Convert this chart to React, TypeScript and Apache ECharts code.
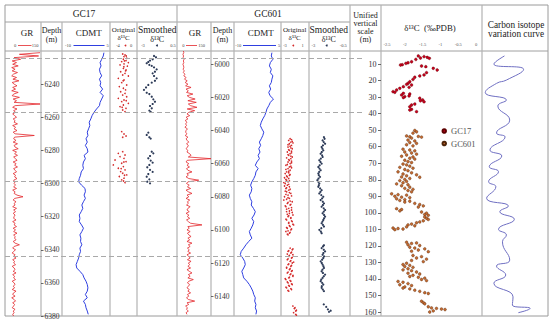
import React, { useEffect, useRef } from 'react';
import * as echarts from 'echarts';

// ---------------- data ----------------
const GC17_TOP = 6220;
const GC17_BOTTOM = 6380;
const GC601_TOP = 5992;
const GC601_BOTTOM = 6152;
const UNIFIED_MIN = 0;
const UNIFIED_MAX = 162.4;

const DEPTH_TICKS_GC17 = [6240, 6260, 6280, 6300, 6320, 6340, 6360, 6380];
const DEPTH_TICKS_GC601 = [6000, 6020, 6040, 6060, 6080, 6100, 6120, 6140];
const UNIFIED_TICKS = [10, 20, 30, 40, 50, 60, 70, 80, 90, 100, 110, 120, 130, 140, 150, 160];
const LEGEND_NAMES = ['GC17', 'GC601'];

// GR logs, 1 m sampling
const GR_STEP = 1;
const GR_GC17_START = 6221;
const grGC17 = [
  146, 60, 140, 38, 65, 30, 48, 32, 55, 28,
  42, 30, 52, 35, 28, 48, 33, 58, 30, 38,
  50, 32, 44, 28, 55, 36, 30, 60, 34, 48,
  38, 146, 42, 32, 50, 36, 44, 32, 40, 48,
  34, 42, 38, 52, 32, 44, 38, 50, 34, 42,
  122, 40, 36, 46, 34, 52, 38, 42, 55, 32,
  48, 40, 52, 36, 44, 50, 34, 46, 40, 52,
  36, 42, 48, 34, 44, 40, 50, 36, 42, 38,
  44, 36, 48, 32, 42, 38, 50, 75, 40, 34,
  46, 38, 42, 32, 48, 36, 44, 34, 42, 38,
  36, 46, 32, 42, 38, 48, 34, 44, 36, 50,
  36, 42, 40, 46, 34, 42, 60, 38, 32, 44,
  36, 30, 42, 36, 46, 32, 40, 36, 44, 30,
  38, 42, 34, 46, 32, 40, 36, 44, 30, 38,
  42, 34, 40, 30, 46, 36, 32, 42, 28, 38,
  44, 32, 40, 36, 30, 42, 34, 38, 32, 36,
];
const GR_GC601_START = 5992;
const grGC601 = [
  28, 30, 26, 29, 27, 31, 28, 30, 26, 29,
  30, 27, 32, 28, 35, 30, 40, 33, 45, 36,
  48, 38, 62, 40, 50, 42, 70, 45, 55, 80,
  48, 85, 50, 60, 88, 45, 78, 52, 44, 56,
  40, 48, 36, 44, 38, 42, 35, 46, 40, 38,
  44, 36, 48, 40, 45, 52, 42, 50, 46, 40,
  48, 44, 56, 62, 50, 150, 45, 40, 52, 44,
  55, 42, 48, 66, 44, 50, 40, 52, 96, 48,
  42, 54, 46, 60, 40, 50, 66, 44, 52, 40,
  56, 46, 50, 42, 58, 48, 44, 54, 40, 52,
  46, 56, 42, 50, 60, 110, 48, 54, 44, 58,
  46, 52, 62, 48, 56, 44, 66, 50, 58, 46,
  54, 48, 60, 44, 52, 58, 46, 62, 50, 56,
  48, 60, 44, 54, 66, 50, 58, 48, 72, 52,
  46, 56, 50, 44, 54, 48, 60, 46, 52, 42,
  50, 78, 44, 52, 38, 46, 42, 50, 40, 44,
];

// CDMT, 2 m sampling
const CDMT_STEP = 2;
const CDMT_GC17_START = 6221;
const cdmtGC17 = [
  3.1, 2.9, 2.4, 1.9, 2.2, 1.7, 1.9, 2.4, 1.7, 2.1,
  1.9, 2.7, 1.9, 2.9, 2.4, 1.9, 1.7, 0.8, 0.0, -0.6,
  -1.0, -1.5, -1.3, -1.7, -2.1, -1.9, -2.5, -2.1, -2.7, -2.1,
  -1.9, -3.1, -2.7, -3.3, -3.5, -3.3, -4.0, -4.2, -4.6, -4.8,
  -3.9, -2.8, -2.7, -3.1, -2.7, -3.3, -3.8, -3.5, -4.0, -4.6,
  -4.4, -4.6, -3.9, -3.3, -3.8, -4.4, -4.1, -4.2, -3.8, -4.4,
  -4.2, -4.6, -4.8, -5.2, -5.6, -5.4, -4.4, -3.5, -3.1, -2.5,
  -2.1, -1.9, -2.1, -2.7, -2.1, -3.3, -2.7, -2.5, -2.1, -1.8,
];
const CDMT_GC601_START = 5993;
const cdmtGC601 = [
  2.1, 1.9, 2.4, 1.6, 1.3, 1.9, 1.6, 2.4, 2.1, 1.9,
  1.3, 1.7, 1.1, 1.5, 2.6, 1.6, 1.1, 0.5, 0.2, -0.2,
  -0.8, -1.3, -1.6, -1.1, -0.5, -0.8, -1.3, -1.9, -1.5, -2.1,
  -1.7, -2.3, -1.9, -2.7, -3.2, -2.3, -3.0, -3.2, -3.7, -4.3,
  -4.7, -4.3, -4.5, -5.1, -4.8, -4.3, -4.5, -3.8, -3.2, -3.6,
  -4.3, -3.7, -4.0, -4.5, -5.1, -4.8, -4.3, -5.3, -6.2, -6.9,
  -7.7, -8.0, -7.2, -6.6, -6.4, -6.9, -7.5, -7.2, -6.9, -5.9,
  -5.1, -4.5, -4.0, -3.7, -3.2, -3.4, -3.0, -3.2, -2.8, -3.0,
];

// [depth m, δ13C ‰]
const originalGC17 = [
  [6221.8, -2.12], [6222.4, -1.78], [6223, -1.6], [6223.4, -1.93], [6224.4, -1.53], [6225, -2.02],
  [6225.8, -1.63], [6226, -1.85], [6226.4, -2.27], [6227, -1.28], [6227.8, -1.93], [6228.4, -2.52],
  [6229.1, -1.43], [6229.5, -1.95], [6230.5, -2.02], [6231.5, -1.63], [6232, -1.7], [6232.5, -2.42],
  [6233.5, -1.78], [6234.5, -2.12], [6235.1, -1.28], [6236.5, -2.77], [6237.5, -1.93], [6238, -2.05],
  [6239.1, -2.27], [6240.5, -1.53], [6241.5, -2.62], [6242.5, -2.02], [6243.5, -1.7], [6244.6, -2.42],
  [6245.6, -1.78], [6246.6, -2.12], [6247.6, -1.53], [6248.6, -2.77], [6249.6, -1.93], [6250, -1.6],
  [6250.6, -2.27], [6251.6, -1.28], [6252.6, -2.02], [6253.6, -2.52], [6254, -2.2], [6254.6, -1.63],
  [6255.6, -2.12], [6256.6, -1.78],
  [6268.7, -2.27], [6270.1, -1.93], [6271.3, -1.63], [6272.1, -2.12],
  [6280.8, -2.12], [6281.8, -2.77], [6282.8, -1.78], [6283.8, -2.52], [6284.8, -1.93], [6285.8, -3.26],
  [6286.8, -1.63], [6287, -1.95], [6287.8, -2.27], [6288.8, -3.51], [6289.8, -2.02], [6290.8, -2.77],
  [6291, -2.35], [6291.8, -1.78], [6292.8, -2.42], [6293.8, -2.12], [6294.8, -1.53], [6295, -1.85],
  [6295.8, -2.62], [6296.8, -1.93], [6297.8, -2.27], [6298.5, -2.0], [6299.5, -1.78],
];
const smoothedGC17 = [
  [6223, -1.51], [6223.8, -1.34], [6225, -1.63], [6225.8, -1.86], [6226.6, -2.01], [6227.4, -2.15],
  [6228.4, -1.92], [6229, -1.71], [6229.9, -1.51], [6231.1, -1.28], [6232.5, -1.43], [6233.5, -1.63],
  [6235.1, -1.51], [6236.5, -1.28], [6238, -1.43], [6239.1, -1.71], [6240.5, -2.01], [6242, -2.21],
  [6243.5, -2.39], [6245.2, -2.15], [6246, -1.92], [6247.6, -1.71], [6249.2, -1.57], [6250.6, -1.43],
  [6252, -1.63], [6253.2, -1.86], [6254.6, -1.71], [6256, -1.92], [6256.8, -1.8],
  [6269.3, -2.01], [6270.7, -2.15], [6272.1, -1.92], [6272.9, -1.8],
  [6280.8, -1.71], [6281.8, -1.57], [6283.4, -1.86], [6284.8, -2.01], [6286.2, -1.8], [6287.4, -1.63],
  [6288.8, -1.92], [6290.2, -2.1], [6291.8, -1.86], [6293, -1.63], [6294.3, -2.01], [6295.9, -2.15],
  [6297.5, -1.92], [6298.9, -2.1], [6299.9, -1.86],
];
const originalGC601 = [
  [6045, -1.7], [6045.5, -1.5], [6046, -1.9], [6046.6, -1.4], [6047, -1.6], [6047.5, -1.3], [6048, -1.8],
  [6048.6, -2.0], [6049, -1.5], [6049.5, -1.7], [6050, -2.0], [6050.5, -1.6], [6051, -1.4], [6051.6, -1.9],
  [6052, -1.8], [6052.5, -1.5], [6053, -2.1], [6053.5, -1.5], [6054, -1.7], [6054.6, -2.0], [6055, -1.9],
  [6055.5, -1.6], [6056, -1.4], [6056.5, -2.2], [6057, -1.6], [6057.6, -1.9], [6058, -1.8], [6058.5, -1.5],
  [6059, -2.0], [6059.5, -1.5], [6060, -1.7], [6060.5, -2.1], [6061, -2.3], [6061.6, -1.6], [6062, -1.8],
  [6062.5, -1.5], [6063, -2.0], [6063.5, -2.3], [6064, -1.7], [6064.6, -1.9], [6065, -2.2], [6065.5, -1.9],
  [6066, -2.4], [6066.6, -1.7], [6067, -1.8], [6067.5, -2.2], [6068, -2.1], [6068.5, -2.5], [6069, -1.9],
  [6069.6, -2.3], [6070, -2.2], [6070.5, -1.8], [6071, -2.0], [6071.5, -2.6], [6072, -2.4], [6072.5, -1.9],
  [6073, -2.1], [6073.5, -2.5], [6074, -1.8], [6074.6, -2.2], [6075, -2.3], [6075.5, -1.7], [6076, -1.9],
  [6076.6, -2.4], [6077, -2.2], [6077.5, -1.8], [6078, -1.6], [6078.6, -2.3], [6079, -2.0], [6079.5, -1.5],
  [6080, -2.5], [6080.6, -2.0], [6081, -1.8], [6081.5, -2.2], [6082, -2.6], [6082.6, -1.7], [6083, -1.4],
  [6083.5, -2.0], [6084, -2.1], [6084.6, -1.6], [6085, -1.7], [6085.5, -2.4], [6086, -2.3], [6086.6, -1.5],
  [6087, -1.9], [6087.5, -2.2], [6088, -1.5], [6088.6, -1.8], [6089, -2.2], [6089.5, -1.4], [6090, -1.8],
  [6090.6, -2.1], [6091, -1.3], [6091.5, -1.9], [6092, -2.0], [6092.6, -1.6], [6093, -1.6], [6093.5, -2.3],
  [6094, -2.2], [6094.6, -1.5], [6095, -1.4], [6095.5, -1.9], [6096, -1.9], [6096.6, -1.3], [6097, -1.2],
  [6097.5, -1.8], [6098, -1.7], [6098.6, -2.2], [6099, -2.1], [6099.5, -1.5], [6100, -1.6], [6100.6, -2.0],
  [6101, -2.3], [6101.5, -1.7], [6102, -1.8], [6102.6, -2.1], [6103, -2.0],
  [6111, -1.7], [6111.5, -1.3], [6112, -1.4], [6112.6, -1.9], [6113, -2.0], [6113.5, -1.5], [6114, -1.6],
  [6114.6, -2.1], [6115, -1.3], [6115.5, -1.8], [6116, -1.9], [6116.6, -1.4], [6117, -1.5], [6117.5, -2.0],
  [6118, -2.1], [6118.6, -1.6], [6119, -1.7], [6119.5, -1.2], [6120, -1.4], [6120.6, -1.9], [6121, -2.0],
  [6121.5, -1.5], [6122, -1.6], [6122.6, -2.2], [6123, -2.2], [6123.5, -1.7], [6124, -1.8], [6124.6, -1.4],
  [6125, -1.5], [6125.5, -2.0], [6126, -2.1], [6126.6, -1.6], [6127, -1.7], [6127.5, -1.3], [6128, -1.3],
  [6128.6, -1.8], [6129, -1.9], [6129.5, -2.4], [6130, -2.3], [6130.6, -1.7], [6131, -1.6], [6131.5, -2.1],
  [6132, -2.0], [6132.6, -1.5], [6133, -1.4], [6133.5, -1.9], [6134, -1.8], [6134.6, -2.3], [6135, -2.2],
  [6135.5, -1.6], [6136, -1.5], [6136.6, -2.0], [6137, -1.9],
  [6146, -1.3], [6147, -1.0], [6147.5, -1.1], [6148.5, -0.8], [6149, -0.9], [6150, -1.2], [6151, -0.9],
  [6151.5, -0.8],
];
const smoothedGC601 = [
  [6044, -2.09], [6045, -2.05], [6046, -2.17], [6047, -2.1], [6048, -2.02], [6049, -2.15], [6050, -2.23],
  [6051, -2.18], [6052, -2.13], [6053, -2.22], [6054, -2.29], [6055, -2.2], [6056, -2.17], [6057, -2.28],
  [6058, -2.37], [6059, -2.3], [6060, -2.23], [6061, -2.35], [6062, -2.43], [6063, -2.36], [6064, -2.29],
  [6065, -2.38], [6066, -2.43], [6067, -2.4], [6068, -2.33], [6069, -2.42], [6070, -2.49], [6071, -2.43],
  [6072, -2.37], [6073, -2.4], [6074, -2.43], [6075, -2.32], [6076, -2.23], [6077, -2.3], [6078, -2.37],
  [6079, -2.25], [6080, -2.13], [6081, -2.2], [6082, -2.29], [6083, -2.16], [6084, -2.09], [6085, -2.15],
  [6086, -2.23], [6087, -2.1], [6088, -2.02], [6089, -2.1], [6090, -2.17], [6091, -2.08], [6092, -2.02],
  [6093, -2.08], [6094, -2.13], [6095, -2.18], [6096, -2.23], [6097, -2.15], [6098, -2.09], [6099, -2.25],
  [6100, -2.37], [6101, -2.28], [6102, -2.23],
  [6109.3, -2.09], [6110, -2.15], [6111, -2.23], [6112, -2.1], [6113, -2.02], [6114, -2.12], [6115, -2.17],
  [6116, -2.08], [6117, -2.13], [6118, -2.2], [6119, -2.29], [6120, -2.22], [6121, -2.17], [6122, -2.12],
  [6123, -2.09], [6124, -2.18], [6125, -2.23], [6126, -2.15], [6127, -2.02], [6128, -2.1], [6129, -2.17],
  [6130, -2.25], [6131, -2.29], [6132, -2.2], [6133, -2.13], [6134, -2.22], [6135, -2.23], [6136, -2.16],
  [6137, -2.09],
  [6145, -2.1], [6146.5, -1.95], [6148, -1.85], [6149.5, -1.78], [6148.8, -1.68],
];

// δ13C on the unified vertical scale: [δ13C ‰, unified m]
const unifiedGC17 = [
  [-1.62, 5.1], [-1.56, 6.35], [-1.46, 5.5], [-1.37, 5.95], [-1.31, 6.55], [-1.69, 7.2], [-1.81, 8.6],
  [-1.91, 9.2], [-1.97, 9.6], [-2.07, 10.4], [-2.12, 10.6], [-1.53, 11.2], [-1.41, 11.6], [-1.2, 12.6],
  [-1.09, 13.6], [-1.39, 15.2], [-1.46, 16.6], [-1.58, 17.2], [-1.72, 18.0], [-1.77, 19.3], [-1.86, 20.7],
  [-1.91, 21.7], [-1.95, 22.3], [-1.81, 22.7], [-1.88, 24.1], [-2.04, 23.7], [-2.14, 24.7], [-2.23, 25.7],
  [-2.33, 26.7], [-2.28, 27.1], [-2.04, 27.7], [-2.09, 28.7], [-2.0, 29.7], [-1.86, 28.1], [-1.88, 29.3],
  [-2.04, 30.3], [-1.58, 30.7], [-1.5, 31.7], [-1.46, 32.8], [-1.56, 32.2], [-1.72, 34.2], [-1.81, 34.8],
  [-1.86, 35.8], [-1.81, 37.4], [-1.86, 37.8], [-1.67, 38.8],
];
const unifiedGC601 = [
  [-1.72, 50.2], [-1.67, 51.0], [-1.77, 51.8], [-1.95, 53.5], [-1.86, 54.0], [-1.62, 53.8], [-1.53, 54.2],
  [-1.81, 54.8], [-1.91, 56.0], [-1.72, 56.5], [-1.86, 57.5], [-1.67, 58.0], [-1.95, 58.8], [-1.77, 59.5],
  [-2.05, 61.5], [-1.86, 62.0], [-1.72, 62.5], [-2.0, 63.2], [-1.81, 63.8], [-1.67, 64.5], [-1.95, 65.0],
  [-2.09, 65.8], [-1.77, 66.2], [-1.86, 67.0], [-1.72, 67.5], [-2.0, 68.2], [-1.91, 69.0], [-1.81, 69.6],
  [-2.05, 70.5], [-1.95, 71.0], [-1.86, 71.8], [-2.14, 72.5], [-1.77, 73.0], [-2.0, 73.8], [-1.91, 74.5],
  [-2.19, 75.2], [-1.81, 75.8], [-2.05, 76.5], [-1.67, 77.0], [-1.95, 77.6], [-2.09, 78.3], [-1.58, 78.5],
  [-1.86, 79.2], [-2.0, 79.8], [-2.14, 80.5], [-1.95, 81.0], [-2.05, 81.8], [-2.23, 82.5], [-1.91, 83.0],
  [-2.09, 83.6], [-1.86, 84.5], [-2.0, 85.2], [-1.77, 85.8], [-1.91, 86.5], [-1.81, 87.3], [-2.37, 88.5],
  [-2.19, 89.0], [-1.95, 89.3], [-2.28, 90.0], [-2.09, 90.5], [-1.86, 90.8], [-2.23, 91.5], [-2.0, 92.0],
  [-2.14, 92.5], [-1.86, 93.0], [-2.0, 93.5], [-1.72, 94.3], [-1.58, 95.0], [-1.48, 95.8], [-1.62, 96.5],
  [-2.23, 97.5], [-2.09, 98.0], [-2.14, 98.8], [-1.53, 99.5], [-1.39, 100.2], [-1.44, 101.0], [-1.34, 101.5],
  [-1.44, 102.5], [-1.39, 103.3], [-1.34, 104.0], [-1.48, 104.8], [-1.58, 105.5], [-1.67, 106.0],
  [-1.81, 106.8], [-1.91, 107.3], [-1.72, 107.8], [-2.33, 109.2], [-2.19, 109.5], [-2.05, 109.8],
  [-1.95, 108.5], [-2.28, 110.2], [-1.95, 117.8], [-1.81, 118.5], [-1.67, 118.2], [-1.91, 119.3],
  [-1.58, 119.8], [-1.86, 120.8], [-1.72, 121.3], [-1.44, 121.8], [-1.62, 122.5], [-1.81, 123.2],
  [-1.34, 123.5], [-1.77, 125.8], [-1.53, 126.5], [-1.67, 127.3], [-1.39, 128.0], [-1.81, 128.8],
  [-1.48, 129.5], [-1.95, 130.5], [-2.05, 131.3], [-1.86, 131.8], [-2.0, 132.5], [-1.77, 133.0],
  [-1.91, 133.8], [-2.05, 134.5], [-1.81, 135.0], [-1.67, 135.8], [-1.91, 136.5], [-1.58, 137.0],
  [-1.77, 137.8], [-1.86, 138.5], [-1.62, 139.0], [-1.44, 139.5], [-1.53, 140.3], [-1.39, 141.0],
  [-2.19, 141.5], [-2.05, 142.0], [-1.91, 142.8], [-2.14, 143.5], [-1.81, 144.0], [-2.0, 144.8],
  [-2.05, 145.5], [-1.86, 146.0], [-1.72, 146.8], [-1.58, 147.5], [-1.44, 148.3], [-1.34, 148.8],
  [-1.53, 153.5], [-1.48, 154.3], [-1.44, 155.0], [-1.34, 156.8], [-1.25, 157.5], [-1.11, 157.8],
  [-0.97, 158.2], [-0.87, 158.5], [-1.2, 159.3], [-1.3, 160.0],
];

// carbon isotope variation curve: [relative amplitude 0-100, unified m]
const isotopeCurve = [
  [34, 5.1], [18, 10], [63, 13.2], [37, 19.7], [22, 21.7], [5, 27.3], [37, 31.8], [24, 35.4], [42, 43.9],
  [22, 51.7], [35, 54.1], [12, 62], [30, 65.6], [11, 72.1], [25, 75.1], [10, 81.2], [21, 84.2], [7, 91.2],
  [40, 95.9], [27, 99.3], [49, 103.9], [25, 110], [37, 113.4], [31, 117.5], [42, 128.6], [22, 132.2],
  [36, 137.6], [18, 142.6], [47, 150.8], [46, 155.8], [73, 157.8], [55, 160.4],
];

// sequence boundaries (GC17 depth, m)
const boundaryDepthsGC17 = [6224.4, 6256.7, 6298.9, 6344.2];

// ---------------- layout / style ----------------
const FONT = "'Liberation Serif', 'DejaVu Serif', serif";
const TOP = 51;
const H = 265;
const UTOP = 47.5;
const UH = 268.5;
const GRID_COLOR = '#b2b2b2';
const RED = '#e3262b';
const BLUE = '#2f3fe0';
const NAVY = '#2d3b58';
const C17 = '#c8001e';
const C601 = '#c66a30';

const gridDefs = [
  { left: 5, top: TOP, width: 36, height: H }, // 0 GR GC17
  { left: 41, top: TOP, width: 21, height: H }, // 1 depth GC17
  { left: 62, top: TOP, width: 48, height: H }, // 2 CDMT GC17
  { left: 110, top: TOP, width: 27, height: H }, // 3 original GC17
  { left: 137, top: TOP, width: 40, height: H }, // 4 smoothed GC17
  { left: 177, top: TOP, width: 34, height: H }, // 5 GR GC601
  { left: 211, top: TOP, width: 23, height: H }, // 6 depth GC601
  { left: 234, top: TOP, width: 47, height: H }, // 7 CDMT GC601
  { left: 281, top: TOP, width: 28, height: H }, // 8 original GC601
  { left: 309, top: TOP, width: 41, height: H }, // 9 smoothed GC601
  { left: 5, top: TOP, width: 358, height: H }, // 10 boundaries
  { left: 387, top: UTOP, width: 89, height: UH }, // 11 δ13C
  { left: 482, top: UTOP, width: 66, height: UH }, // 12 curve
  { left: 381, top: UTOP, width: 6, height: UH }, // 13 unified scale axis
];

const xRanges = [
  [0, 150], [0, 1], [-10, 5], [-4, 0], [-3, 0.5],
  [0, 150], [0, 1], [-10, 5], [-3, 1], [-3, -0.5],
  [0, 1], [-2.5, 0], [0, 100], [0, 1],
];
const yRanges = [
  [GC17_TOP, GC17_BOTTOM], [GC17_TOP, GC17_BOTTOM], [GC17_TOP, GC17_BOTTOM], [GC17_TOP, GC17_BOTTOM], [GC17_TOP, GC17_BOTTOM],
  [GC601_TOP, GC601_BOTTOM], [GC601_TOP, GC601_BOTTOM], [GC601_TOP, GC601_BOTTOM], [GC601_TOP, GC601_BOTTOM], [GC601_TOP, GC601_BOTTOM],
  [GC17_TOP, GC17_BOTTOM], [UNIFIED_MIN, UNIFIED_MAX], [UNIFIED_MIN, UNIFIED_MAX], [UNIFIED_MIN, UNIFIED_MAX],
];

function depthAxis(gridIndex: number, ticks: number[], range: number[]) {
  return {
    type: 'value', gridIndex, min: range[0], max: range[1], inverse: true, position: 'left',
    axisLine: { show: false }, splitLine: { show: false },
    axisTick: { show: true, inside: true, length: 2.5, customValues: ticks, lineStyle: { color: '#444', width: 0.8 } },
    axisLabel: {
      inside: true, margin: 3.5, fontSize: 7.5, color: '#333', fontFamily: FONT, customValues: ticks,
      formatter: (v: number) => String(v),
    },
  };
}

function buildOption() {
  const grid = gridDefs.map((g) => ({ ...g, outerBoundsMode: 'none', containLabel: false }));
  const xAxis: any[] = xRanges.map((r, i) => ({ type: 'value', gridIndex: i, min: r[0], max: r[1], show: false }));
  xAxis[11] = {
    type: 'value', gridIndex: 11, min: -2.5, max: 0, interval: 0.5, position: 'top',
    axisLine: { show: false }, axisTick: { show: false }, splitLine: { show: false },
    axisLabel: { fontSize: 4.5, margin: 0.5, color: '#555', fontFamily: FONT },
  };
  const yAxis: any[] = yRanges.map((r, i) => ({ type: 'value', gridIndex: i, min: r[0], max: r[1], inverse: true, show: false }));
  yAxis[1] = depthAxis(1, DEPTH_TICKS_GC17, yRanges[1]);
  yAxis[6] = depthAxis(6, DEPTH_TICKS_GC601, yRanges[6]);
  yAxis[13] = {
    type: 'value', gridIndex: 13, min: UNIFIED_MIN, max: UNIFIED_MAX, inverse: true, position: 'left',
    axisLine: { show: false }, splitLine: { show: false },
    axisTick: { show: true, length: 3, customValues: UNIFIED_TICKS, lineStyle: { color: '#444', width: 0.8 } },
    axisLabel: {
      margin: 4.5, fontSize: 8, color: '#333', fontFamily: FONT, customValues: UNIFIED_TICKS,
      formatter: (v: number) => String(v),
    },
  };

  const logLine = (name: string, idx: number, data: number[][], color: string, width: number) => ({
    name, type: 'line', xAxisIndex: idx, yAxisIndex: idx, data, symbol: 'none', z: 3,
    lineStyle: { color, width }, silent: true,
  });
  const dots = (name: string, idx: number, data: number[][], color: string, size: number) => ({
    name, type: 'scatter', xAxisIndex: idx, yAxisIndex: idx, data, symbolSize: size, z: 3,
    itemStyle: { color, opacity: 1 }, silent: true,
  });

  const series: any[] = [
    {
      name: 'boundaries', type: 'scatter', xAxisIndex: 10, yAxisIndex: 10, data: [[0, GC17_TOP]], symbolSize: 0, z: 1,
      markLine: {
        silent: true, symbol: 'none', label: { show: false },
        lineStyle: { color: '#a9a9a9', width: 1, type: [5, 3] },
        data: boundaryDepthsGC17.map((d) => ({ yAxis: d })),
      },
    },
    logLine('GR GC17', 0, grGC17.map((v, i) => [v, GR_GC17_START + i * GR_STEP]), RED, 0.8),
    logLine('CDMT GC17', 2, cdmtGC17.map((v, i) => [v, CDMT_GC17_START + i * CDMT_STEP]), BLUE, 1),
    dots('Original GC17', 3, originalGC17.map(([d, v]) => [v, d]), '#d42a2a', 1.6),
    dots('Smoothed GC17', 4, smoothedGC17.map(([d, v]) => [v, d]), NAVY, 2.2),
    logLine('GR GC601', 5, grGC601.map((v, i) => [v, GR_GC601_START + i * GR_STEP]), RED, 0.8),
    logLine('CDMT GC601', 7, cdmtGC601.map((v, i) => [v, CDMT_GC601_START + i * CDMT_STEP]), BLUE, 1),
    dots('Original GC601', 8, originalGC601.map(([d, v]) => [v, d]), '#d42a2a', 1.6),
    dots('Smoothed GC601', 9, smoothedGC601.map(([d, v]) => [v, d]), NAVY, 2.2),
    {
      name: LEGEND_NAMES[0], type: 'scatter', xAxisIndex: 11, yAxisIndex: 11, data: unifiedGC17, symbolSize: 2.8, z: 4,
      itemStyle: { color: C17, borderColor: '#5c0000', borderWidth: 0.4, opacity: 1 },
    },
    {
      name: LEGEND_NAMES[1], type: 'scatter', xAxisIndex: 11, yAxisIndex: 11, data: unifiedGC601, symbolSize: 2.8, z: 4,
      itemStyle: { color: C601, borderColor: '#4d2408', borderWidth: 0.4, opacity: 1 },
    },
    {
      name: 'curve', type: 'line', xAxisIndex: 12, yAxisIndex: 12, data: isotopeCurve, smooth: 0.5, symbol: 'none',
      lineStyle: { color: '#6f6fc2', width: 1 }, z: 3, silent: true,
    },
    {
      name: 'unified scale', type: 'scatter', xAxisIndex: 13, yAxisIndex: 13, data: [], silent: true,
    },
  ];

  const txt = (x: number, y: number, text: string, size: number, extra: any = {}) => ({
    type: 'text', x, y, silent: true, z: 10,
    style: {
      text, fontSize: size, fontFamily: FONT, fill: extra.fill || '#222',
      align: extra.align || 'center', verticalAlign: 'middle',
      textAlign: extra.align || 'center', textVerticalAlign: 'middle',
    },
  });
  const ln = (x1: number, y1: number, x2: number, y2: number, color = GRID_COLOR, w = 1.2) => ({
    type: 'line', silent: true, z: 0, shape: { x1, y1, x2, y2 }, style: { stroke: color, lineWidth: w },
  });
  const dot = (cx: number, cy: number, r: number, fill: string) => ({
    type: 'circle', silent: true, z: 10, shape: { cx, cy, r }, style: { fill },
  });

  const MS = 45.5; // mini scale row
  const ms = 4.5;
  const grey = { fill: '#444' };
  const graphic: any[] = [
    { type: 'rect', silent: true, z: 0, shape: { x: 5, y: 5, width: 543, height: 311 }, style: { fill: 'none', stroke: '#9a9a9a', lineWidth: 1 } },
    ln(5, 22, 350, 22, '#a0a0a0', 1),
    ln(5, 51, 548, 51, '#a0a0a0', 1),
    ...[177, 350, 381, 482].map((x) => ln(x, 5, x, 316)),
    ...[41, 62, 110, 137, 211, 234, 281, 309].map((x) => ln(x, 22, x, 316)),
    txt(84, 14, 'GC17', 9.5),
    txt(268, 14, 'GC601', 9.5),
    // GC17 headers
    txt(27, 33, 'GR', 9),
    txt(51.5, 30.5, 'Depth', 8),
    txt(51.5, 39, '(m)', 8),
    txt(88.7, 33, 'CDMT', 9),
    txt(123.5, 30, 'Original', 7),
    txt(123.5, 37.5, 'δ¹³C', 7),
    txt(157.2, 29.5, 'Smoothed', 9.5),
    txt(157.2, 39, 'δ¹³C', 8),
    // GC601 headers
    txt(195, 33, 'GR', 9),
    txt(222.5, 30.5, 'Depth', 8),
    txt(222.5, 39, '(m)', 8),
    txt(260.7, 33, 'CDMT', 9),
    txt(294.7, 30, 'Original', 7),
    txt(294.7, 37.5, 'δ¹³C', 7),
    txt(328.8, 29.5, 'Smoothed', 9.5),
    txt(328.8, 39, 'δ¹³C', 8),
    // unified / δ13C / curve headers
    txt(365.5, 15.5, 'Unified', 8),
    txt(365.5, 23.5, 'vertical', 8),
    txt(365.5, 31.5, 'scale', 8),
    txt(365.5, 39.5, '(m)', 8),
    txt(430, 28, 'δ¹³C  (‰PDB)', 8.8),
    txt(516, 24.5, 'Carbon isotope', 9.3),
    txt(516, 34, 'variation curve', 9.3),
    // mini scales GC17
    txt(15, MS, '0', ms, grey),
    ln(18, MS, 31.5, MS, RED, 0.8),
    txt(35, MS, '150', ms, grey),
    txt(68, MS, '-10', ms, grey),
    ln(73.5, MS, 104.5, MS, BLUE, 1),
    txt(107.5, MS, '5', ms, grey),
    txt(118, MS, '-4', ms, grey),
    dot(125.5, MS, 0.9, '#d42a2a'),
    txt(131, MS, '0', ms, grey),
    txt(143, MS, '-3', ms, grey),
    dot(157, MS, 1, NAVY),
    txt(173, MS, '0.5', ms, grey),
    // mini scales GC601
    txt(183.3, MS, '0', ms, grey),
    ln(186, MS, 197, MS, RED, 0.8),
    txt(201.7, MS, '150', ms, grey),
    txt(238.3, MS, '-10', ms, grey),
    ln(243, MS, 276, MS, BLUE, 1),
    txt(279, MS, '5', ms, grey),
    txt(285, MS, '-3', ms, grey),
    dot(293.3, MS, 0.9, '#d42a2a'),
    txt(302.7, MS, '1', ms, grey),
    txt(313.3, MS, '-3', ms, grey),
    dot(326.7, MS, 1, NAVY),
    txt(343.3, MS, '-0.5', ms, grey),
  ];

  return {
    animation: false,
    backgroundColor: '#ffffff',
    textStyle: { fontFamily: FONT },
    grid,
    xAxis,
    yAxis,
    legend: {
      data: LEGEND_NAMES, orient: 'vertical', left: 441.5, top: 126.5, padding: 0,
      icon: 'circle', itemWidth: 3.5, itemHeight: 3.5, itemGap: 3.5,
      textStyle: { fontSize: 8.5, color: '#555', fontFamily: FONT },
    },
    series,
    graphic,
  };
}

export default function App() {
  const ref = useRef<HTMLDivElement>(null);
  useEffect(() => {
    if (!ref.current) return;
    const chart = echarts.init(ref.current, null, { renderer: 'svg' });
    chart.setOption(buildOption() as any);
    return () => chart.dispose();
  }, []);
  return (
    <div
      ref={ref}
      style={{ position: 'fixed', left: 0, top: 0, width: 550, height: 327, background: '#fff' }}
    />
  );
}
